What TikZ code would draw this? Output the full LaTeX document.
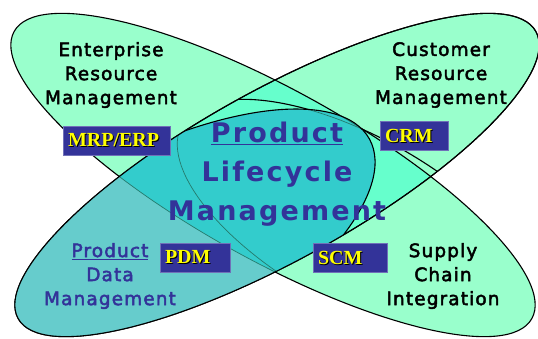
\documentclass[tikz,border=0pt]{standalone}
\usepackage{fontspec}
\setmainfont{DejaVu Sans}
\newfontfamily\lblfont[LetterSpace=6,FakeBold=2.5]{DejaVu Sans}
\newfontfamily\plmfont[LetterSpace=8]{DejaVu Sans}
\newfontfamily\tagfont{Liberation Serif}
\usetikzlibrary{positioning}

\definecolor{mintlight}{HTML}{99FFCC}
\definecolor{mintmid}{HTML}{66FFCC}
\definecolor{tealpdm}{HTML}{66CCCC}
\definecolor{tealdark}{HTML}{33CCCC}
\definecolor{plmblue}{HTML}{333399}
\definecolor{tagyellow}{HTML}{FFFF00}
\definecolor{innerline}{HTML}{257A6C}

\newcommand{\ellERM}{(273,163) ellipse [x radius=296pt, y radius=85pt]}
\newcommand{\ellCRM}{(277,163) ellipse [x radius=296pt, y radius=85pt]}
\newcommand{\ellPDM}{(142,73) ellipse [x radius=260pt, y radius=105pt]}
\newcommand{\ellSCI}{(357,116.5) ellipse [x radius=200pt, y radius=85pt]}
\newcommand{\tagtext}[1]{\makebox[0pt][l]{\kern1pt\raisebox{-1pt}{\color{black}#1}}\color{tagyellow}#1}

\tikzset{
  rotERM/.style={rotate around={-29:(273,163)}},
  rotCRM/.style={rotate around={29:(277,163)}},
  rotPDM/.style={rotate around={29:(142,73)}},
  rotSCI/.style={rotate around={-29:(357,116.5)}},
  rim/.style={draw=black, line width=1.1pt},
  thinrim/.style={draw=innerline, line width=0.7pt},
  lbl/.style={align=center, font=\lblfont\fontsize{18.5}{24}\selectfont},
  tagbox/.style={fill=plmblue, draw=plmblue!70!white, line width=1pt, inner sep=0pt,
    minimum height=29pt, align=left, font=\tagfont\bfseries\fontsize{20}{20}\selectfont},
}

\begin{document}
\begin{tikzpicture}[x=1pt,y=1pt]
  \useasboundingbox (0,0) rectangle (538,338);
  % the two long ellipses
  \fill[mintlight, rotERM] \ellERM;
  \fill[mintlight, rotCRM] \ellCRM;
  \begin{scope}
    \clip[rotERM] \ellERM;
    \fill[mintmid, rotCRM] \ellCRM;
  \end{scope}
  \path[rim, rotERM] \ellERM;
  \path[rim, rotCRM] \ellCRM;
  \begin{scope}
    \clip[rotCRM] \ellCRM;
    \path[rim, rotSCI] \ellSCI;
  \end{scope}
  % product data management
  \begin{scope}
    \clip[rotCRM] \ellCRM;
    \clip[rotPDM] \ellPDM;
    \fill[tealpdm] (0,0) rectangle (538,338);
    \fill[tealdark, rotERM] \ellERM;
    \fill[tealdark] (275,0) rectangle (538,338);
    \path[thinrim, rotERM] \ellERM;
    \path[thinrim, rotSCI] \ellSCI;
  \end{scope}
  \path[rim, rotCRM] \ellCRM;
  \begin{scope}
    \clip[rotCRM] \ellCRM;
    \path[rim, rotPDM] \ellPDM;
  \end{scope}

  \node[lbl] (erm) at (111,263) {Enterprise\\Resource\\Management};
  \node[lbl] (crm) at (441,263) {Customer\\Resource\\Management};
  \node[lbl] (sci) at (443,62) {Supply\\Chain\\Integration};
  \node[lbl, text=plmblue] (pdm) at (110,62) {\underline{Product}\\Data\\Management};
  \node[align=center, text=plmblue, font=\plmfont\bfseries\fontsize{27}{39}\selectfont]
    (plm) at (277,164) {\underline{Product}\\Lifecycle\\Management};

  \node[tagbox, minimum width=107pt, text width=97pt] (mrp) at (116.5,197.5) {\tagtext{MRP/ERP}};
  \node[tagbox, minimum width=68pt, text width=58pt] (crmtag) at (414,202) {\tagtext{CRM}};
  \node[tagbox, minimum width=70pt, text width=60pt] (pdmtag) at (195,80.5) {\tagtext{PDM}};
  \node[tagbox, minimum width=74pt, text width=64pt] (scmtag) at (350,80) {\tagtext{SCM}};
\end{tikzpicture}
\end{document}
